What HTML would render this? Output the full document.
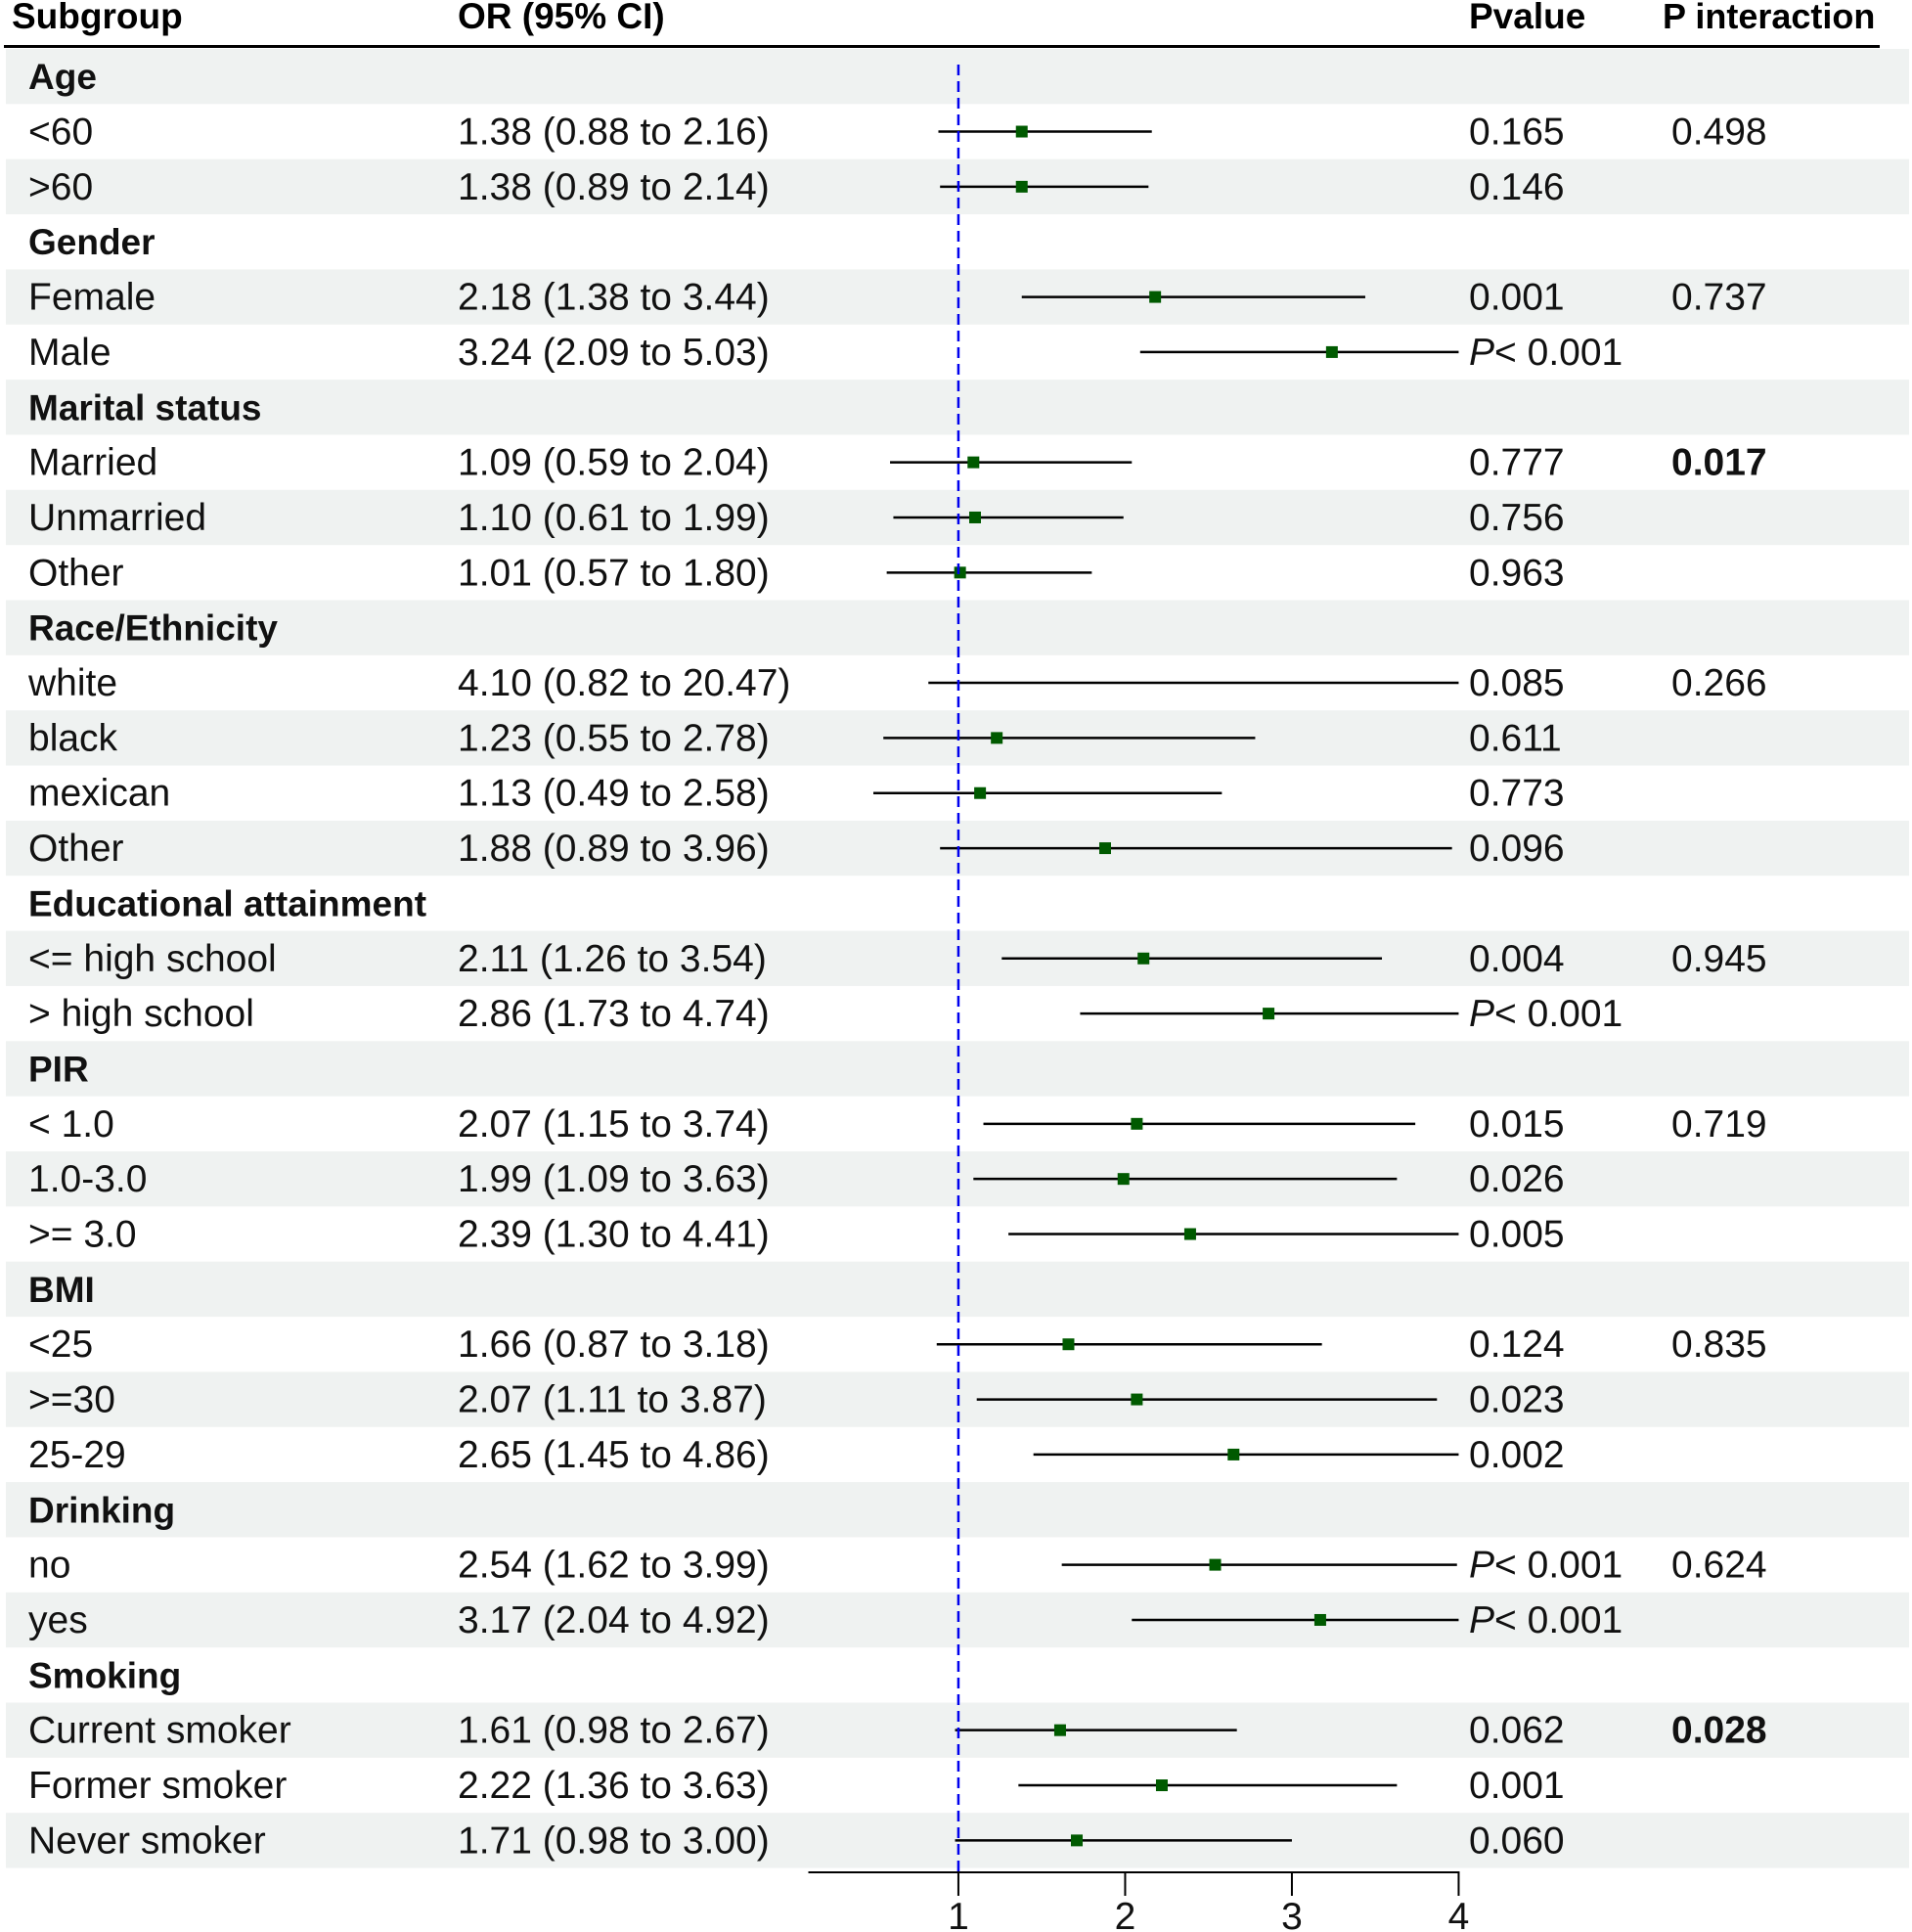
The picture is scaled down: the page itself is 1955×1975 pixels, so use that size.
<!DOCTYPE html>
<html><head><meta charset="utf-8"><style>
html,body{margin:0;padding:0;background:#fff;}
svg{display:block;font-family:"Liberation Sans",Arial,sans-serif;}
</style></head><body>
<svg id="chart" width="1955" height="1975" viewBox="0 0 1955 1975" xmlns="http://www.w3.org/2000/svg">
<g id="bands"></g>
<g id="header">
<text x="12" y="29" font-size="37" font-weight="bold">Subgroup</text>
<text x="468" y="29" font-size="37" font-weight="bold">OR (95% CI)</text>
<text x="1502" y="29" font-size="37" font-weight="bold">Pvalue</text>
<text x="1700" y="29" font-size="36" font-weight="bold">P interaction</text>
<rect x="4" y="46" width="1918" height="3" fill="#000"/>
</g>
<g id="texts"></g>
<g id="marks"></g>
<g id="axis"></g>
</svg>
<script>
const labels = ["Age","<60",">60","Gender","Female","Male","Marital status","Married","Unmarried","Other","Race/Ethnicity","white","black","mexican","Other","Educational attainment","<= high school","> high school","PIR","< 1.0","1.0-3.0",">= 3.0","BMI","<25",">=30","25-29","Drinking","no","yes","Smoking","Current smoker","Former smoker","Never smoker"];
const isHeader = [1,0,0,1,0,0,1,0,0,0,1,0,0,0,0,1,0,0,1,0,0,0,1,0,0,0,1,0,0,1,0,0,0];
const orVals = [null,1.38,1.38,null,2.18,3.24,null,1.09,1.10,1.01,null,4.10,1.23,1.13,1.88,null,2.11,2.86,null,2.07,1.99,2.39,null,1.66,2.07,2.65,null,2.54,3.17,null,1.61,2.22,1.71];
const loVals = [null,0.88,0.89,null,1.38,2.09,null,0.59,0.61,0.57,null,0.82,0.55,0.49,0.89,null,1.26,1.73,null,1.15,1.09,1.30,null,0.87,1.11,1.45,null,1.62,2.04,null,0.98,1.36,0.98];
const hiVals = [null,2.16,2.14,null,3.44,5.03,null,2.04,1.99,1.80,null,20.47,2.78,2.58,3.96,null,3.54,4.74,null,3.74,3.63,4.41,null,3.18,3.87,4.86,null,3.99,4.92,null,2.67,3.63,3.00];
const pVals = ["","0.165","0.146","","0.001","<0.001","","0.777","0.756","0.963","","0.085","0.611","0.773","0.096","","0.004","<0.001","","0.015","0.026","0.005","","0.124","0.023","0.002","","<0.001","<0.001","","0.062","0.001","0.060"];
const pInter = ["","0.498","","","0.737","","","0.017","","","","0.266","","","","","0.945","","","0.719","","","","0.835","","","","0.624","","","0.028","",""];
const pInterBold = ["","","","","","","","0.017","","","","","","","","","","","","","","","","","","","","","","","0.028","",""];
const ticks = [1,2,3,4];

const NS="http://www.w3.org/2000/svg";
const X0=826.5, XMIN=0.1, XMAX=4, PX=170.5;
function xs(v){return X0+(Math.min(Math.max(v,XMIN),XMAX)-XMIN)*PX;}
const ROW0=50, RH=56.35;
function yc(i){return ROW0+i*RH+RH/2;}
function mk(tag,attrs,parent){const e=document.createElementNS(NS,tag);for(const k in attrs)e.setAttribute(k,attrs[k]);parent.appendChild(e);return e;}
const bands=document.getElementById('bands'),texts=document.getElementById('texts'),marks=document.getElementById('marks'),axis=document.getElementById('axis');
labels.forEach((lab,i)=>{
  if(i%2===0){
    const r=mk('rect',{x:6,y:ROW0+i*RH,width:1946,height:RH,fill:'#eff2f1'},bands);
    
    
  }
  const by=yc(i)+13;
  const t=mk('text',{x:29,y:by,'font-size':isHeader[i]?37:39,'font-weight':isHeader[i]?'bold':'normal',fill:'#111'},texts);
  t.textContent=lab;
  
  
  if(orVals[i]!==null){
    const o=mk('text',{x:468,y:by,'font-size':39,fill:'#111'},texts);
    o.textContent=orVals[i].toFixed(2)+' ('+loVals[i].toFixed(2)+' to '+hiVals[i].toFixed(2)+')';
    
    
    const l=mk('line',{x1:xs(loVals[i]),x2:xs(hiVals[i]),y1:yc(i),y2:yc(i),stroke:'#000','stroke-width':2.5},marks);
    
    
    if(orVals[i]<XMAX){
      const s=mk('rect',{x:xs(orVals[i])-6,y:yc(i)-6,width:12,height:12,fill:'#005a00'},marks);
      
      
    }
  }
  if(pVals[i]){
    const p=mk('text',{x:1502,y:by,'font-size':39,fill:'#111'},texts);
    if(pVals[i][0]==='<'){
      const a=mk('tspan',{'font-style':'italic'},p);a.textContent='P';
      const b=mk('tspan',{},p);b.textContent='< '+pVals[i].slice(1);
    } else p.textContent=pVals[i];
    
    
  }
  if(pInter[i]){
    const q=mk('text',{x:1709,y:by,'font-size':39,'font-weight':pInterBold[i]?'bold':'normal',fill:'#111'},texts);
    q.textContent=pInter[i];
    
    
  }
});
const ref=mk('line',{x1:xs(1),x2:xs(1),y1:66,y2:1914,stroke:'#0000ee','stroke-width':2.5,'stroke-dasharray':'11,6'},marks);


const ax=mk('line',{x1:X0,x2:xs(XMAX)+1,y1:1914,y2:1914,stroke:'#000','stroke-width':2},axis);


ticks.forEach(t=>{
  const tl=mk('line',{x1:xs(t),x2:xs(t),y1:1914,y2:1938,stroke:'#000','stroke-width':2},axis);
  
  
  const tt=mk('text',{x:xs(t),y:1972,'font-size':39,'text-anchor':'middle',fill:'#111'},axis);
  tt.textContent=String(t);
  
  
});
</script>
</body></html>
